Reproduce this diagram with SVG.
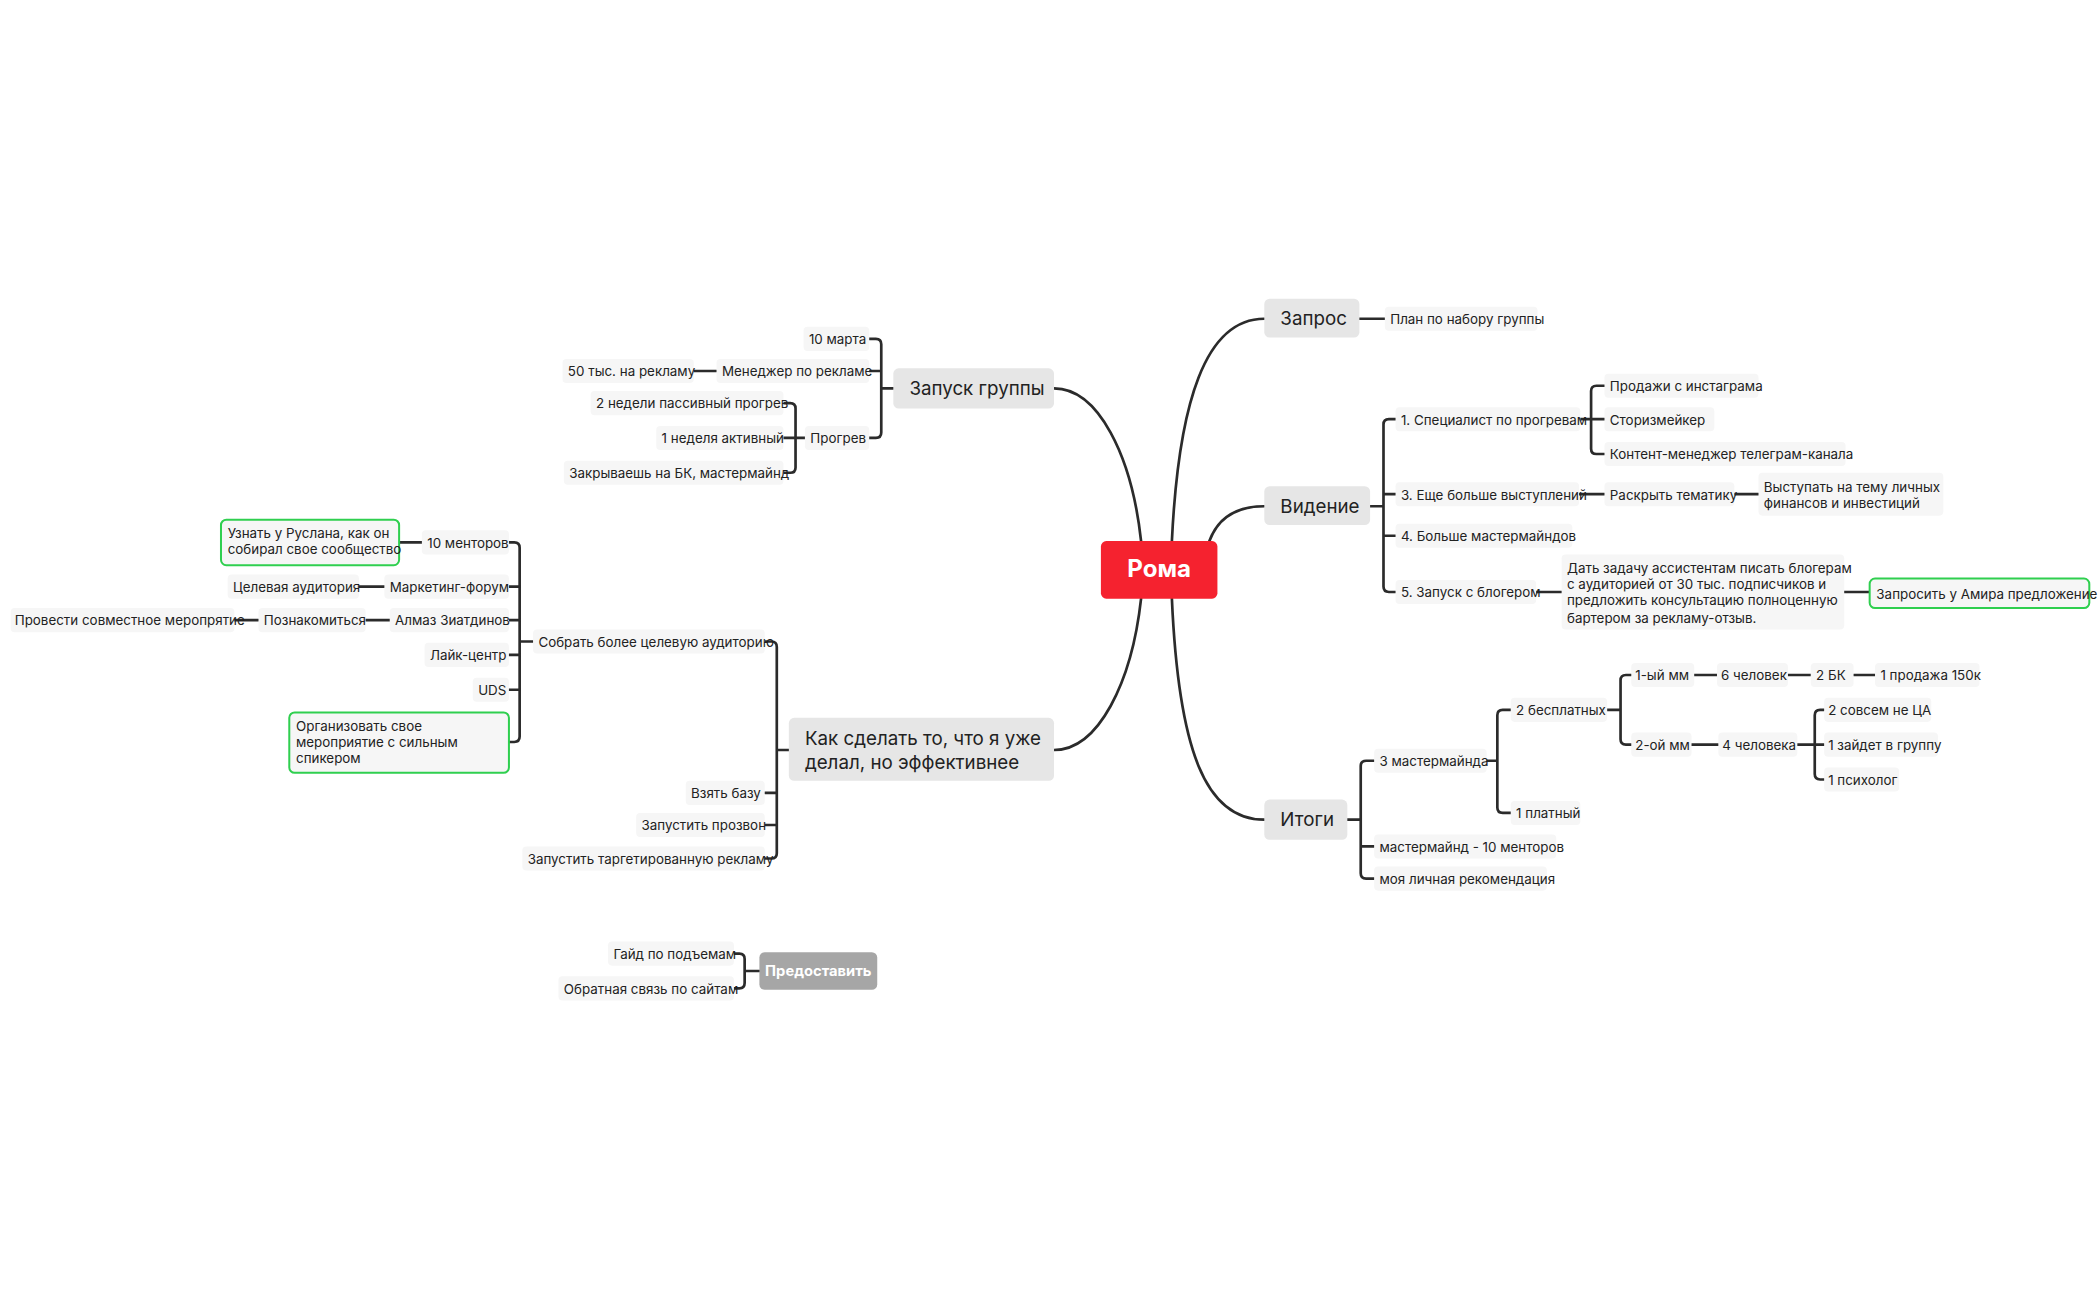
<svg xmlns="http://www.w3.org/2000/svg" width="2100" height="1300" viewBox="0 0 2100 1300">
<style>
.n{fill:#f6f6f6}
.m{fill:#e6e6e6}
.g{fill:#f6f6f6;stroke:#2fcf4f;stroke-width:1.5}
.t{font-family:Inter,"Liberation Sans",sans-serif;font-size:10px;fill:#222}
.mt{font-family:Inter,"Liberation Sans",sans-serif;font-size:14px;fill:#222}
.c{fill:none;stroke:#2b2b2b;stroke-width:2;stroke-linecap:round}
</style>
<rect width="2100" height="1300" fill="#fff"/>
<g transform="scale(1.3393)">
<g id="connectors" class="c">
<path d="M875,404 C880,300 900,238 944,238"/>
<path d="M903,404 C910,385 925,378 944,378"/>
<path d="M875,447 C880,560 900,612 944,612"/>
<path d="M852,404 C845,340 820,290 787,290"/>
<path d="M852,447 C845,510 820,560 787,560"/>
<path d="M1015,238 H1034"/>
<path d="M1023,378 H1033 M1042,313 H1037 Q1033,313 1033,317 V438 Q1033,442 1037,442 H1042 M1033,369 H1042 M1033,400 H1042"/>
<path d="M1180,313 H1188 M1198,288 H1192 Q1188,288 1188,292 V335 Q1188,339 1192,339 H1198 M1188,313 H1198"/>
<path d="M1179,369 H1198 M1295,369 H1313 M1147,442 H1166 M1377,442 H1396"/>
<path d="M1006,612 H1016 M1026,568 H1020 Q1016,568 1016,572 V652 Q1016,656 1020,656 H1026 M1016,632 H1026"/>
<path d="M1110,568 H1118 M1128,530 H1122 Q1118,530 1118,534 V603 Q1118,607 1122,607 H1128"/>
<path d="M1200,530 H1210 M1218,504 H1214 Q1210,504 1210,508 V552 Q1210,556 1214,556 H1218"/>
<path d="M1265,504 H1282 M1335,504 H1352 M1384,504 H1400 M1263,556 H1283"/>
<path d="M1342,556 H1355 M1362,530 H1359 Q1355,530 1355,534 V578 Q1355,582 1359,582 H1362 M1355,556 H1362"/>
<path d="M667,290 H658 M649,253 H654 Q658,253 658,257 V323 Q658,327 654,327 H649 M658,277 H649"/>
<path d="M535,277 H518"/>
<path d="M601,327 H594 M585,301 H590 Q594,301 594,305 V349 Q594,353 590,353 H585 M594,327 H585"/>
<path d="M589,560 H580 M571,479 H576 Q580,479 580,483 V637 Q580,641 576,641 H571 M580,592 H571 M580,616 H571"/>
<path d="M398,479 H388 M380,405 H384 Q388,405 388,409 V550 Q388,554 384,554 H380 M388,438 H380 M388,463 H380 M388,489 H380 M388,515 H380"/>
<path d="M315,405 H298 M287,438 H268 M291,463 H273 M193,463 H175"/>
<path d="M567,725 H556 M548,712 H552 Q556,712 556,716 V734 Q556,738 552,738 H548"/>
</g>
<g id="root"><rect x="822" y="404" width="87" height="43" rx="4" fill="#f5222f"/><text x="865.5" y="431" text-anchor="middle" font-family="Inter,'Liberation Sans',sans-serif" font-size="18" font-weight="bold" fill="#fff">Рома</text></g>
<g id="zapros"><rect class="m" x="944" y="223" width="71" height="29" rx="4"/><text class="mt" x="956" y="243">Запрос</text></g>
<g id="videnie"><rect class="m" x="944" y="363" width="79" height="29" rx="4"/><text class="mt" x="956" y="383">Видение</text></g>
<g id="itogi"><rect class="m" x="944" y="597" width="62" height="30" rx="4"/><text class="mt" x="956" y="617">Итоги</text></g>
<g id="zapusk"><rect class="m" x="667" y="275" width="120" height="30" rx="4"/><text class="mt" x="679" y="295">Запуск группы</text></g>
<g id="kak"><rect class="m" x="589" y="536" width="198" height="47" rx="4"/><text class="mt" x="601" y="556">Как сделать то, что я уже</text><text class="mt" x="601" y="574">делал, но эффективнее</text></g>
<g id="predostavit"><rect x="567" y="711" width="88" height="28" rx="4" fill="#a6a6a6"/><text x="611" y="729" text-anchor="middle" font-family="Inter,'Liberation Sans',sans-serif" font-size="11" font-weight="bold" fill="#fff">Предоставить</text></g>
<g id="n1"><rect class="n" x="1034" y="229" width="114" height="18" rx="3"/><text class="t" x="1038" y="242">План по набору группы</text></g>
<g id="n2"><rect class="n" x="1042" y="304" width="138" height="18" rx="3"/><text class="t" x="1046" y="317">1. Специалист по прогревам</text></g>
<g id="n3"><rect class="n" x="1042" y="360" width="137" height="18" rx="3"/><text class="t" x="1046" y="373">3. Еще больше выступлений</text></g>
<g id="n4"><rect class="n" x="1042" y="391" width="132" height="18" rx="3"/><text class="t" x="1046" y="404">4. Больше мастермайндов</text></g>
<g id="n5"><rect class="n" x="1042" y="433" width="105" height="18" rx="3"/><text class="t" x="1046" y="446">5. Запуск с блогером</text></g>
<g id="n6"><rect class="n" x="1198" y="279" width="115" height="18" rx="3"/><text class="t" x="1202" y="292">Продажи с инстаграма</text></g>
<g id="n7"><rect class="n" x="1198" y="304" width="82" height="18" rx="3"/><text class="t" x="1202" y="317">Сторизмейкер</text></g>
<g id="n8"><rect class="n" x="1198" y="330" width="180" height="18" rx="3"/><text class="t" x="1202" y="343">Контент-менеджер телеграм-канала</text></g>
<g id="n9"><rect class="n" x="1198" y="360" width="97" height="18" rx="3"/><text class="t" x="1202" y="373">Раскрыть тематику</text></g>
<g id="n10"><rect class="n" x="1313" y="353" width="138" height="32" rx="3"/><text class="t" x="1317" y="367">Выступать на тему личных</text><text class="t" x="1317" y="379">финансов и инвестиций</text></g>
<g id="n11"><rect class="n" x="1166" y="414" width="211" height="56" rx="3"/><text class="t" x="1170" y="428">Дать задачу ассистентам писать блогерам</text><text class="t" x="1170" y="440">с аудиторией от 30 тыс. подписчиков и</text><text class="t" x="1170" y="452">предложить консультацию полноценную</text><text class="t" x="1170" y="465">бартером за рекламу-отзыв.</text></g>
<g id="n12"><rect class="g" x="1396" y="432" width="164" height="22" rx="4"/><text class="t" x="1401" y="447">Запросить у Амира предложение</text></g>
<g id="n13"><rect class="n" x="1026" y="559" width="84" height="18" rx="3"/><text class="t" x="1030" y="572">3 мастермайнда</text></g>
<g id="n14"><rect class="n" x="1026" y="623" width="136" height="18" rx="3"/><text class="t" x="1030" y="636">мастермайнд - 10 менторов</text></g>
<g id="n15"><rect class="n" x="1026" y="647" width="129" height="18" rx="3"/><text class="t" x="1030" y="660">моя личная рекомендация</text></g>
<g id="n16"><rect class="n" x="1128" y="521" width="72" height="18" rx="3"/><text class="t" x="1132" y="534">2 бесплатных</text></g>
<g id="n17"><rect class="n" x="1128" y="598" width="52" height="18" rx="3"/><text class="t" x="1132" y="611">1 платный</text></g>
<g id="n18"><rect class="n" x="1218" y="495" width="47" height="18" rx="3"/><text class="t" x="1221" y="508">1-ый мм</text></g>
<g id="n19"><rect class="n" x="1282" y="495" width="53" height="18" rx="3"/><text class="t" x="1285" y="508">6 человек</text></g>
<g id="n20"><rect class="n" x="1352" y="495" width="32" height="18" rx="3"/><text class="t" x="1356" y="508">2 БК</text></g>
<g id="n21"><rect class="n" x="1400" y="495" width="78" height="18" rx="3"/><text class="t" x="1404" y="508">1 продажа 150к</text></g>
<g id="n22"><rect class="n" x="1218" y="547" width="45" height="18" rx="3"/><text class="t" x="1221" y="560">2-ой мм</text></g>
<g id="n23"><rect class="n" x="1283" y="547" width="59" height="18" rx="3"/><text class="t" x="1286" y="560">4 человека</text></g>
<g id="n24"><rect class="n" x="1362" y="521" width="80" height="18" rx="3"/><text class="t" x="1365" y="534">2 совсем не ЦА</text></g>
<g id="n25"><rect class="n" x="1362" y="547" width="85" height="18" rx="3"/><text class="t" x="1365" y="560">1 зайдет в группу</text></g>
<g id="n26"><rect class="n" x="1362" y="573" width="56" height="18" rx="3"/><text class="t" x="1365" y="586">1 психолог</text></g>
<g id="n27"><rect class="n" x="600" y="244" width="49" height="18" rx="3"/><text class="t" x="604" y="257">10 марта</text></g>
<g id="n28"><rect class="n" x="535" y="268" width="114" height="18" rx="3"/><text class="t" x="539" y="281">Менеджер по рекламе</text></g>
<g id="n29"><rect class="n" x="420" y="268" width="98" height="18" rx="3"/><text class="t" x="424" y="281">50 тыс. на рекламу</text></g>
<g id="n30"><rect class="n" x="601" y="318" width="48" height="18" rx="3"/><text class="t" x="605" y="331">Прогрев</text></g>
<g id="n31"><rect class="n" x="441" y="292" width="144" height="18" rx="3"/><text class="t" x="445" y="305">2 недели пассивный прогрев</text></g>
<g id="n32"><rect class="n" x="490" y="318" width="95" height="18" rx="3"/><text class="t" x="494" y="331">1 неделя активный</text></g>
<g id="n33"><rect class="n" x="421" y="344" width="164" height="18" rx="3"/><text class="t" x="425" y="357">Закрываешь на БК, мастермайнд</text></g>
<g id="n34"><rect class="n" x="398" y="470" width="173" height="18" rx="3"/><text class="t" x="402" y="483">Собрать более целевую аудиторию</text></g>
<g id="n35"><rect class="n" x="512" y="583" width="59" height="18" rx="3"/><text class="t" x="516" y="596">Взять базу</text></g>
<g id="n36"><rect class="n" x="475" y="607" width="96" height="18" rx="3"/><text class="t" x="479" y="620">Запустить прозвон</text></g>
<g id="n37"><rect class="n" x="390" y="632" width="181" height="18" rx="3"/><text class="t" x="394" y="645">Запустить таргетированную рекламу</text></g>
<g id="n38"><rect class="n" x="315" y="396" width="65" height="18" rx="3"/><text class="t" x="319" y="409">10 менторов</text></g>
<g id="n39"><rect class="g" x="165" y="388" width="133" height="34" rx="4"/><text class="t" x="170" y="402">Узнать у Руслана, как он</text><text class="t" x="170" y="414">собирал свое сообщество</text></g>
<g id="n40"><rect class="n" x="287" y="429" width="93" height="18" rx="3"/><text class="t" x="291" y="442">Маркетинг-форум</text></g>
<g id="n41"><rect class="n" x="170" y="429" width="98" height="18" rx="3"/><text class="t" x="174" y="442">Целевая аудитория</text></g>
<g id="n42"><rect class="n" x="291" y="454" width="89" height="18" rx="3"/><text class="t" x="295" y="467">Алмаз Зиатдинов</text></g>
<g id="n43"><rect class="n" x="193" y="454" width="80" height="18" rx="3"/><text class="t" x="197" y="467">Познакомиться</text></g>
<g id="n44"><rect class="n" x="8" y="454" width="167" height="18" rx="3"/><text class="t" x="11" y="467">Провести совместное меропрятие</text></g>
<g id="n45"><rect class="n" x="317" y="480" width="63" height="18" rx="3"/><text class="t" x="321" y="493">Лайк-центр</text></g>
<g id="n46"><rect class="n" x="353" y="506" width="27" height="18" rx="3"/><text class="t" x="357" y="519">UDS</text></g>
<g id="n47"><rect class="g" x="216" y="532" width="164" height="45" rx="4"/><text class="t" x="221" y="546">Организовать свое</text><text class="t" x="221" y="558">мероприятие с сильным</text><text class="t" x="221" y="570">спикером</text></g>
<g id="n48"><rect class="n" x="454" y="703" width="94" height="18" rx="3"/><text class="t" x="458" y="716">Гайд по подъемам</text></g>
<g id="n49"><rect class="n" x="417" y="729" width="131" height="18" rx="3"/><text class="t" x="421" y="742">Обратная связь по сайтам</text></g>
</g>
</svg>
